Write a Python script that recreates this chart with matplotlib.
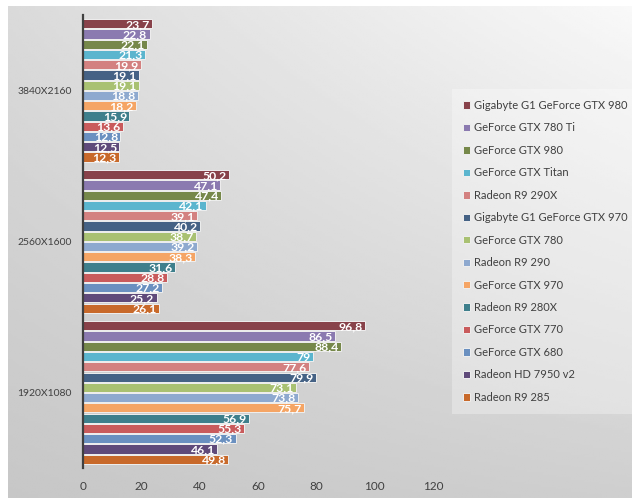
import matplotlib

matplotlib.use("Agg")
import matplotlib.pyplot as plt  # noqa: E402
import numpy as np  # noqa: E402

plt.rcParams["font.family"] = ["Lato", "DejaVu Sans"]

resolutions = ["1920X1080", "2560X1600", "3840X2160"]

cards = [
    "Gigabyte G1 GeForce GTX 980",
    "GeForce GTX 780 Ti",
    "GeForce GTX 980",
    "GeForce GTX Titan",
    "Radeon R9 290X",
    "Gigabyte G1 GeForce GTX 970",
    "GeForce GTX 780",
    "Radeon R9 290",
    "GeForce GTX 970",
    "Radeon R9 280X",
    "GeForce GTX 770",
    "GeForce GTX 680",
    "Radeon HD 7950 v2",
    "Radeon R9 285",
]

colors = [
    "#88424A", "#8B7AB0", "#76884A", "#5BB5CE", "#D38180", "#456285", "#A9C172",
    "#8EA9CF", "#F5A565", "#3E7F8C", "#C95B5C", "#6A90C0", "#5F4A7A", "#C8692A",
]

fps_1920 = [96.8, 86.5, 88.4, 79, 77.6, 79.9, 73.1, 73.8, 75.7, 56.9, 55.3, 52.3, 46.1, 49.8]
fps_2560 = [50.2, 47.1, 47.4, 42.1, 39.1, 40.2, 38.7, 39.2, 38.3, 31.6, 28.8, 27.2, 25.2, 26.1]
fps_3840 = [23.7, 22.8, 22.1, 21.3, 19.9, 19.1, 19.1, 18.8, 18.2, 15.9, 13.6, 12.8, 12.5, 12.3]

values = np.array([fps_1920, fps_2560, fps_3840])  # rows = resolutions

fig = plt.figure(figsize=(6.4, 5.04), dpi=100)
fig.patch.set_facecolor("white")

# panel background: light at top-right, darker towards the bottom-left
bg = fig.add_axes([8 / 640, 6 / 504, 624 / 640, 492 / 504], zorder=0)
gx, gy = np.meshgrid(np.linspace(0, 1, 200), np.linspace(0, 1, 200))
tl, tr, bl, br = 0.855, 0.975, 0.78, 0.81
shade = (tl * (1 - gx) * gy + tr * gx * gy + bl * (1 - gx) * (1 - gy) + br * gx * (1 - gy))
bg.imshow(shade, aspect="auto", cmap="gray", vmin=0, vmax=1, extent=[0, 1, 0, 1], origin="lower")
bg.set_xlim(0, 1)
bg.set_ylim(0, 1)
bg.axis("off")

ax = fig.add_axes([0.1297, 0.0714, 0.5469, 0.899], zorder=1)
ax.patch.set_alpha(0)

slot = 0.0679
y_base = np.arange(len(resolutions))
for j, (name, col) in enumerate(zip(cards, colors)):
    ys = y_base + (6.5 - j) * slot
    vals = values[:, j]
    ax.barh(ys, vals, height=slot * 0.9, color=col, edgecolor="#EFEFEF", linewidth=0.7, label=name)
    for y, v in zip(ys, vals):
        txt = f"{v:g}".replace(".", ",")
        ax.text(v - 0.8, y - 0.004, txt, ha="right", va="center", color="white",
                fontsize=8.8, fontweight="bold", zorder=3)

ax.set_xlim(0, 120)
ax.set_ylim(-0.5, 2.5)
ax.set_xticks(range(0, 121, 20))
ax.set_yticks(y_base)
ax.set_yticklabels(resolutions)
ax.tick_params(axis="both", length=0, labelsize=8.5, colors="#404040")
ax.tick_params(axis="y", labelsize=7.5, pad=8)
ax.tick_params(axis="x", pad=9)
for s in ["top", "right", "bottom"]:
    ax.spines[s].set_visible(False)
ax.spines["left"].set_color("#404040")
ax.spines["left"].set_linewidth(1.6)

handles, labels = ax.get_legend_handles_labels()
leg = fig.legend(handles, labels, loc="upper left", bbox_to_anchor=(0.703, 0.828),
                 frameon=True, fontsize=8, handlelength=0.65, handleheight=0.65,
                 labelspacing=1.03, handletextpad=0.35, borderpad=0.7)
leg.get_frame().set_facecolor("white")
leg.get_frame().set_alpha(0.3)
leg.get_frame().set_edgecolor("none")
leg.get_frame().set_boxstyle("square")
for t in leg.get_texts():
    t.set_color("#404040")

fig.savefig("out.png", dpi=100)
